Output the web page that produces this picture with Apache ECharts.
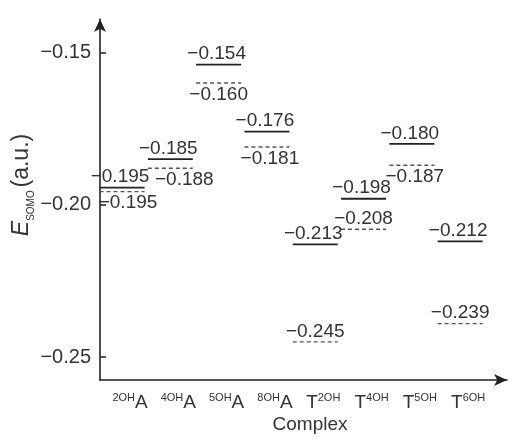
<!DOCTYPE html>
<html><head><meta charset="utf-8">
<script src="https://cdn.jsdelivr.net/npm/echarts@6/dist/echarts.min.js"></script>
<style>html,body{margin:0;padding:0;background:#fff}#c{width:514px;height:439px}</style>
</head><body><div id="c"></div>
<script>
// ---- data ----
const categories = ['2OHA', '4OHA', '5OHA', '8OHA', 'T2OH', 'T4OH', 'T5OH', 'T6OH'];
const solidValues = [-0.195, -0.185, -0.154, -0.176, -0.213, -0.198, -0.180, -0.212];
const dashedValues = [-0.195, -0.188, -0.160, -0.181, -0.245, -0.208, -0.187, -0.239];
const yTicks = [-0.25, -0.20, -0.15];
const xTitle = 'Complex';

// ---- styling (label placement) ----
const dashedLabelBelow = [true, true, true, true, false, false, true, false];
const dashedLabelShift = [6, 14, 0, 3, 0, 0, 3, 0];
const FONT = '"Liberation Sans", Arial, Helvetica, sans-serif';
const TEXT = '#333';
const INK = '#222';

const fmt = (v, d) => '\u2212' + Math.abs(v).toFixed(d);

function catLabel(c) {
  if (c[0] === 'T') return '{b|T}{s|' + c.slice(1) + '}';
  return '{s|' + c.slice(0, -1) + '}{b|' + c.slice(-1) + '}';
}

function levelRenderer(kind) {
  return function (params, api) {
    const i = params.dataIndex;
    const v = api.value(1);
    const p = api.coord([api.value(0), v]);
    const hw = 22.5;
    let dy = 0;
    if (solidValues[i] === dashedValues[i]) dy = kind === 'solid' ? -2 : 2;
    const y = p[1] + dy;
    const solid = kind === 'solid';
    const below = !solid && dashedLabelBelow[i];
    const shift = solid ? -2 : dashedLabelShift[i];
    return {
      type: 'group',
      children: [
        {
          type: 'line',
          shape: { x1: p[0] - hw, y1: y, x2: p[0] + hw, y2: y },
          style: {
            stroke: solid ? INK : '#555',
            lineWidth: solid ? 1.8 : 1.4,
            lineDash: solid ? null : [4, 3]
          }
        },
        {
          type: 'text',
          x: p[0] + shift,
          y: below ? y + 2 : y - 1,
          style: {
            text: fmt(v, 3),
            fill: TEXT,
            font: '19px ' + FONT,
            align: 'center',
            verticalAlign: below ? 'top' : 'bottom'
          }
        }
      ]
    };
  };
}

const chart = echarts.init(document.getElementById('c'), null, { renderer: 'canvas' });
chart.setOption({
  backgroundColor: '#fff',
  animation: false,
  grid: { left: 100, right: 7, top: 19, bottom: 59, containLabel: false, outerBoundsMode: 'none' },
  xAxis: {
    type: 'value',
    min: -0.456,
    max: 7.97,
    splitLine: { show: false },
    axisLine: { show: true, onZero: false, symbol: ['none', 'arrow'], symbolSize: [9, 13], lineStyle: { color: INK, width: 1.6 } },
    axisTick: { show: false },
    axisLabel: {
      customValues: categories.map((c, i) => i),
      formatter: v => catLabel(categories[Math.round(v)]),
      margin: 10,
      padding: [0, 0, 0, 16],
      rich: {
        b: { fontSize: 19, fontFamily: FONT, color: TEXT, lineHeight: 22, verticalAlign: 'bottom' },
        s: { fontSize: 11, fontFamily: FONT, color: TEXT, lineHeight: 22, verticalAlign: 'top', padding: [2, 0, 0, 0] }
      }
    },
    name: xTitle,
    nameLocation: 'middle',
    nameGap: 35,
    nameMoveOverlap: false,
    nameTextStyle: { fontSize: 19, fontFamily: FONT, color: TEXT, padding: [0, 0, 0, 13] }
  },
  yAxis: {
    type: 'value',
    min: -0.2575,
    max: -0.139,
    splitLine: { show: false },
    axisLine: { show: true, onZero: false, symbol: ['none', 'arrow'], symbolSize: [9, 13], lineStyle: { color: INK, width: 1.6 } },
    axisTick: { show: true, inside: true, length: 6, customValues: yTicks, lineStyle: { color: INK, width: 1.5 } },
    axisLabel: {
      customValues: yTicks,
      formatter: v => fmt(v, 2),
      color: TEXT,
      fontSize: 20,
      fontFamily: FONT,
      margin: 9
    },
    name: '{i|E}{sub|SOMO }{n|(a.u.)}',
    nameLocation: 'middle',
    nameRotate: 90,
    nameGap: 64,
    nameMoveOverlap: false,
    nameTextStyle: {
      padding: [0, 0, 0, 29],
      rich: {
        i: { fontSize: 23, fontFamily: FONT, fontStyle: 'italic', color: TEXT, lineHeight: 26, verticalAlign: 'top' },
        sub: { fontSize: 10, fontFamily: FONT, color: TEXT, lineHeight: 26, verticalAlign: 'bottom' },
        n: { fontSize: 23, fontFamily: FONT, color: TEXT, lineHeight: 26, verticalAlign: 'top' }
      }
    }
  },
  series: [
    {
      type: 'custom',
      name: 'solid',
      renderItem: levelRenderer('solid'),
      data: solidValues.map((v, i) => [i, v]),
      clip: false
    },
    {
      type: 'custom',
      name: 'dashed',
      renderItem: levelRenderer('dashed'),
      data: dashedValues.map((v, i) => [i, v]),
      clip: false
    }
  ]
});
</script>
</body></html>
